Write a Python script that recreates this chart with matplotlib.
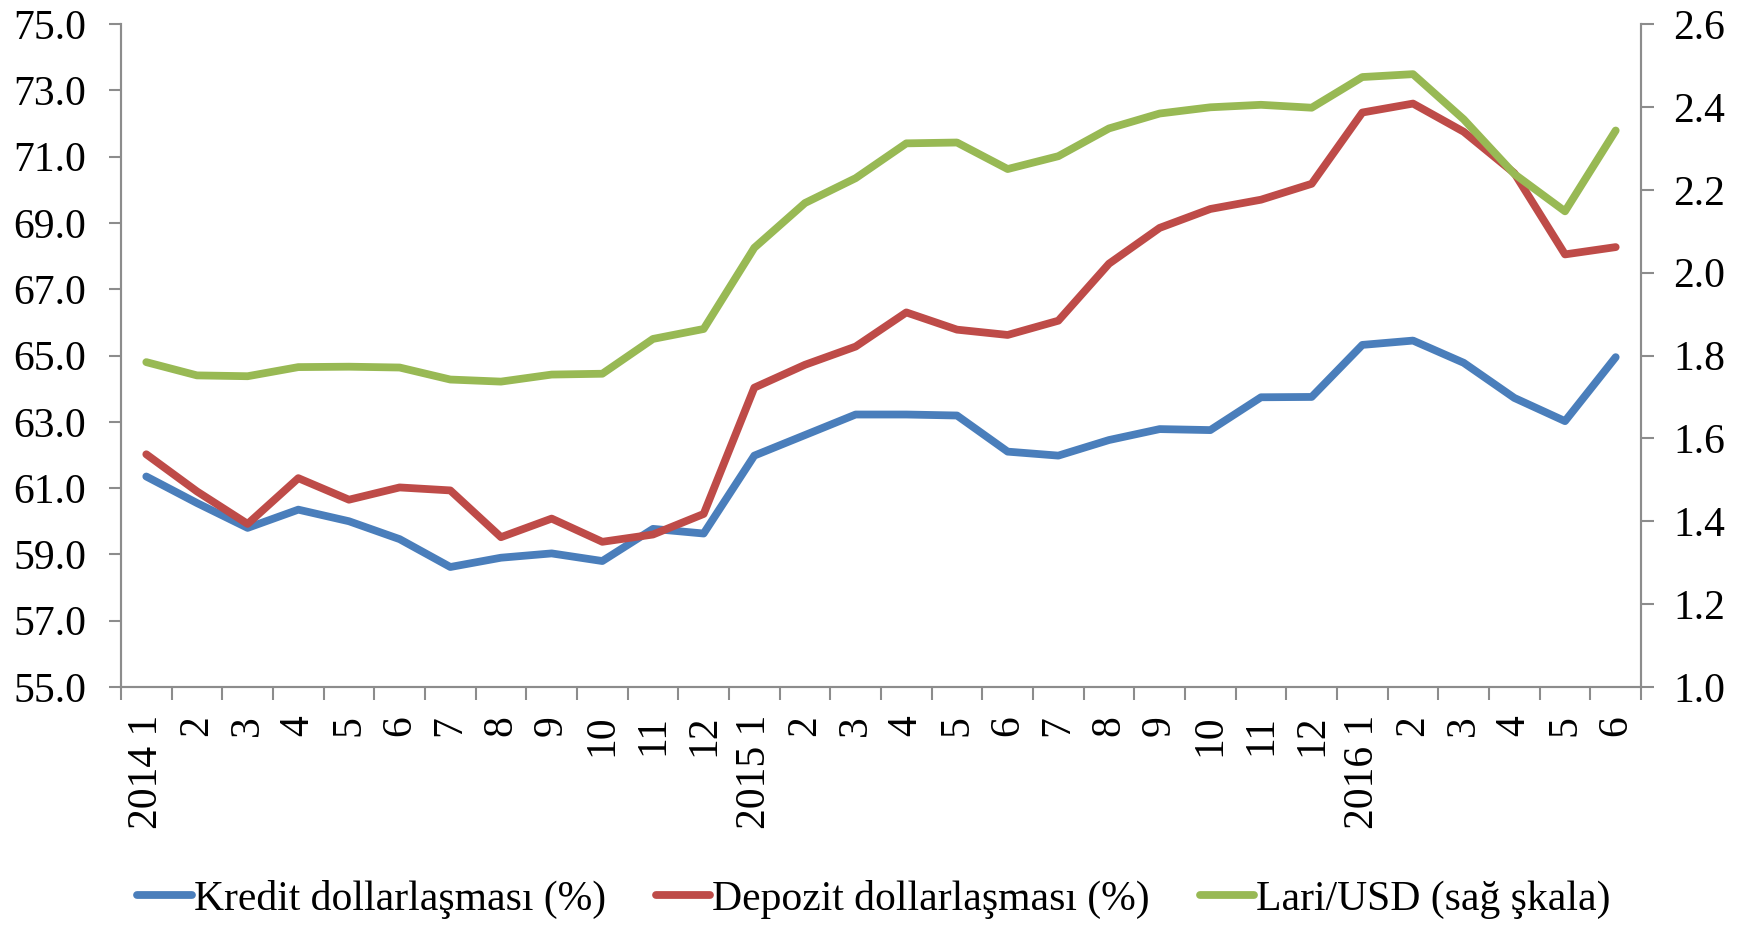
import numpy as np
import matplotlib
matplotlib.use('Agg')
from matplotlib import pyplot as plt

plt.rcParams['font.family'] = ['Liberation Serif', 'DejaVu Serif']

months = ['2014 1', '2', '3', '4', '5', '6', '7', '8', '9', '10', '11', '12',
          '2015 1', '2', '3', '4', '5', '6', '7', '8', '9', '10', '11', '12',
          '2016 1', '2', '3', '4', '5', '6']

kredit = [61.35, 60.55, 59.8, 60.35, 60.0, 59.46, 58.62, 58.9, 59.03, 58.8, 59.77, 59.63,
          61.98, 62.6, 63.22, 63.22, 63.19, 62.1, 61.98, 62.45, 62.78, 62.75, 63.74, 63.75,
          65.32, 65.45, 64.78, 63.72, 63.02, 64.95]

depozit = [62.02, 60.9, 59.92, 61.3, 60.65, 61.02, 60.93, 59.52, 60.08, 59.38, 59.6, 60.22,
           64.03, 64.72, 65.27, 66.3, 65.78, 65.62, 66.05, 67.77, 68.85, 69.42, 69.7, 70.18,
           72.33, 72.6, 71.75, 70.5, 68.05, 68.27]

lari_usd = [1.784, 1.752, 1.750, 1.772, 1.773, 1.771, 1.742, 1.737, 1.754, 1.756, 1.840, 1.864,
            2.060, 2.168, 2.228, 2.312, 2.314, 2.250, 2.281, 2.348, 2.384, 2.399, 2.405, 2.398,
            2.472, 2.479, 2.370, 2.238, 2.148, 2.343]

BLUE = '#4A7EBB'
RED = '#BE4B48'
GREEN = '#98B954'
AXCOL = '#8C8C8C'
FS = 30
LW = 5.6

fig = plt.figure(figsize=(17.48, 9.27), dpi=100)
ax = fig.add_axes([0.0692, 0.2589, 0.8696, 0.7152])
ax2 = ax.twinx()

x = np.arange(len(months))
l1, = ax.plot(x, kredit, color=BLUE, lw=LW, solid_capstyle='round')
l2, = ax.plot(x, depozit, color=RED, lw=LW, solid_capstyle='round')
l3, = ax2.plot(x, lari_usd, color=GREEN, lw=LW, solid_capstyle='round')

ax.set_xlim(-0.5, len(months) - 0.5)
ax.set_ylim(55, 75)
ax.set_yticks(np.arange(55, 75.1, 2))
ax.set_yticklabels(['%.1f' % v for v in np.arange(55, 75.1, 2)])
ax2.set_ylim(1.0, 2.6)
ax2.set_yticks(np.arange(1.0, 2.61, 0.2))
ax2.set_yticklabels(['%.1f' % v for v in np.arange(1.0, 2.61, 0.2)])

ax.set_xticks(x)
ax.set_xticklabels(months, rotation=90, va='top', ha='center')
ax.set_xticks(np.arange(-0.5, len(months)), minor=True)
ax.tick_params(axis='x', which='major', length=0, pad=20, labelsize=FS)
ax.tick_params(axis='x', which='minor', length=9, width=1.5, color=AXCOL, direction='out')
ax.tick_params(axis='y', length=9, width=1.5, color=AXCOL, pad=16, labelsize=FS)
ax2.tick_params(axis='y', length=9, width=1.5, color=AXCOL, pad=14, labelsize=FS)

for a in (ax, ax2):
    a.spines['top'].set_visible(False)
    for s in ('left', 'right', 'bottom'):
        a.spines[s].set_color(AXCOL)
        a.spines[s].set_linewidth(1.5)

fig.legend([l1, l2, l3],
           ['Kredit dollarlaşması (%)', 'Depozit dollarlaşması (%)', 'Lari/USD (sağ şkala)'],
           loc='center', bbox_to_anchor=(0.5, 0.03), ncol=3, frameon=False,
           fontsize=FS, handlelength=1.3, handletextpad=0.05, columnspacing=1.2)

plt.savefig('out.png', dpi=100)
